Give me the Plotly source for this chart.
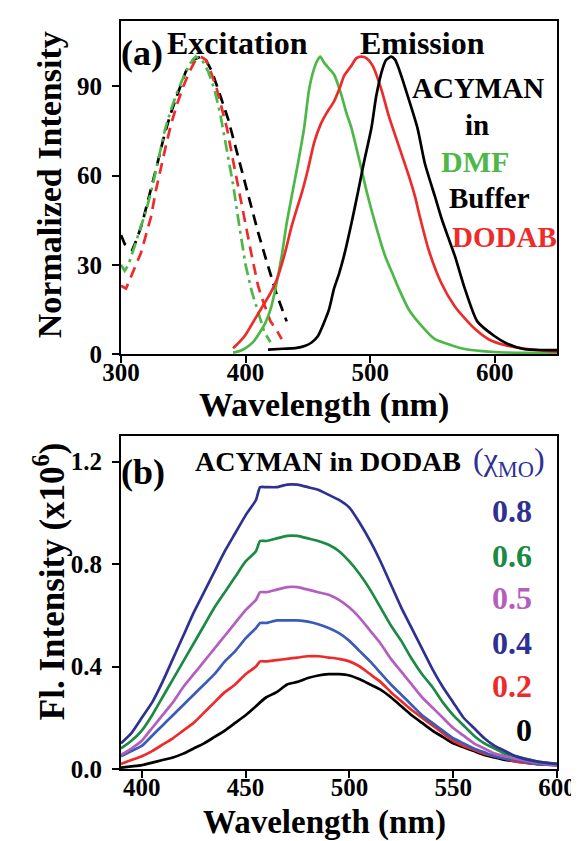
import plotly.graph_objects as go

# ---------------- Panel (a) data ----------------
exc_dmf_x = [300, 303, 306, 310, 315, 320, 325, 330, 335, 340, 345, 350, 355, 360, 365, 370, 375, 380, 385, 390, 395, 400, 405, 410, 415, 420]
exc_dmf_y = [30, 28, 30, 35, 41, 48, 56, 66, 75, 82, 88, 93, 97.5, 100, 99, 95, 89, 80, 69, 57, 43, 30, 21, 14, 7.5, 4]

exc_dodab_x = [300, 304, 308, 312, 316, 320, 324, 328, 332, 336, 340, 345, 350, 355, 360, 364, 368, 372, 377, 381, 385, 390, 395, 400, 405, 410, 413, 420, 425, 429]
exc_dodab_y = [23, 22, 26, 30, 34, 40, 46, 55, 63, 70, 77, 84, 90, 95, 99, 100, 99, 95, 89, 82, 76, 65, 54, 44, 33, 23, 19, 11, 8, 5]

exc_buf_x = [300, 303, 309, 313, 317, 322, 328, 335, 340, 345, 352, 358, 364, 368, 373, 378, 386, 393, 400, 404, 410, 417, 425, 433]
exc_buf_y = [40, 37, 35, 39, 44, 52, 62, 74, 81, 87, 95, 99, 100, 99, 95, 89, 79, 68, 57, 51, 41, 31, 20, 11]

em_dmf_x = [390, 395, 400, 406, 411, 416, 420, 424, 429, 433, 437, 442, 447, 451, 455, 458, 460, 463, 467, 471, 477, 481, 485, 492, 497, 504, 512, 518, 523, 531, 539, 552, 565, 576, 590, 600, 625, 650]
em_dmf_y = [0.5, 1, 2, 4, 7, 10.6, 15, 22, 33, 44, 53, 64, 76, 89, 96, 99, 100, 98, 96, 94, 87, 81, 76, 64, 55, 44, 33, 27, 22, 15, 10.6, 5, 3, 1.7, 1, 0.7, 0.4, 0.3]

em_dodab_x = [390, 395, 400, 405, 410, 415, 420, 425, 431, 437, 442, 445, 450, 455, 460, 465, 471, 476, 479, 485, 489, 493, 497, 502, 509, 515, 523, 531, 536, 540, 547, 557, 568, 576, 584, 595, 610, 630, 650]
em_dodab_y = [2, 4, 6.5, 10, 13.5, 17, 20.5, 25, 33, 43, 50, 54, 62, 71, 77, 81, 85, 90, 93.5, 97, 99.5, 100, 99.5, 97, 89, 80, 70, 60, 53, 46, 35, 24, 16, 12, 8.5, 5, 2.8, 1.5, 0.8]

em_buf_x = [418, 430, 440, 448, 453, 458, 463, 467, 471, 475, 479, 485, 490, 495, 501, 505, 510, 513, 517, 520, 523, 530, 538, 544, 552, 557, 562, 568, 576, 586, 600, 610, 623, 650]
em_buf_y = [1.5, 1.8, 2, 2.8, 3.9, 6, 10.6, 15, 22, 27, 33, 44, 54, 64.4, 76, 87, 96, 99, 100, 99, 96, 87, 76, 64, 53, 46, 40, 33, 22, 11, 6, 3.5, 1.7, 1.3]

a_xticks = [300, 400, 500, 600]
a_yticks = [0, 30, 60, 90]

# ---------------- Panel (b) data ----------------
wl_b = [390, 395, 400, 405, 410, 415, 420, 425, 430, 435, 440, 445, 450, 455, 457, 460, 465, 470, 475, 480,
        485, 490, 495, 500, 505, 510, 515, 520, 525, 530, 535, 540, 545, 550, 555, 560, 565, 570, 575, 580, 590, 600]
chi_08 = [0.10, 0.14, 0.20, 0.26, 0.34, 0.43, 0.52, 0.61, 0.69, 0.77, 0.85, 0.92, 0.99, 1.05, 1.10, 1.10, 1.10, 1.11, 1.11, 1.10,
          1.09, 1.07, 1.05, 1.02, 0.96, 0.89, 0.81, 0.72, 0.63, 0.55, 0.47, 0.39, 0.32, 0.26, 0.20, 0.16, 0.12, 0.09, 0.07, 0.05, 0.03, 0.02]
chi_06 = [0.08, 0.11, 0.15, 0.21, 0.28, 0.35, 0.42, 0.49, 0.56, 0.63, 0.69, 0.75, 0.81, 0.85, 0.89, 0.89, 0.90, 0.91, 0.91, 0.90,
          0.89, 0.875, 0.85, 0.81, 0.76, 0.70, 0.63, 0.56, 0.50, 0.43, 0.37, 0.32, 0.26, 0.21, 0.17, 0.13, 0.10, 0.08, 0.06, 0.05, 0.03, 0.02]
chi_05 = [0.055, 0.08, 0.11, 0.16, 0.21, 0.26, 0.32, 0.37, 0.42, 0.47, 0.52, 0.57, 0.62, 0.66, 0.69, 0.69, 0.70, 0.71, 0.71, 0.70,
          0.69, 0.68, 0.66, 0.63, 0.59, 0.54, 0.49, 0.43, 0.38, 0.33, 0.28, 0.24, 0.20, 0.16, 0.13, 0.10, 0.08, 0.06, 0.05, 0.04, 0.025, 0.015]
chi_04 = [0.05, 0.07, 0.09, 0.13, 0.17, 0.21, 0.25, 0.29, 0.33, 0.37, 0.42, 0.46, 0.51, 0.55, 0.57, 0.57, 0.58, 0.58, 0.58, 0.575,
          0.565, 0.55, 0.53, 0.50, 0.46, 0.42, 0.375, 0.33, 0.29, 0.25, 0.21, 0.18, 0.15, 0.12, 0.10, 0.08, 0.065, 0.05, 0.04, 0.035, 0.02, 0.015]
chi_02 = [0.02, 0.035, 0.05, 0.07, 0.095, 0.12, 0.15, 0.18, 0.22, 0.26, 0.30, 0.33, 0.37, 0.40, 0.42, 0.42, 0.425, 0.43, 0.435, 0.44,
          0.44, 0.435, 0.43, 0.42, 0.40, 0.37, 0.34, 0.30, 0.265, 0.23, 0.20, 0.17, 0.14, 0.11, 0.09, 0.075, 0.06, 0.05, 0.04, 0.03, 0.02, 0.015]
chi_00 = [0.005, 0.01, 0.015, 0.025, 0.035, 0.045, 0.06, 0.08, 0.10, 0.125, 0.15, 0.18, 0.21, 0.245, 0.26, 0.28, 0.30, 0.33, 0.34, 0.355,
          0.365, 0.37, 0.37, 0.365, 0.35, 0.33, 0.31, 0.28, 0.245, 0.21, 0.18, 0.15, 0.125, 0.10, 0.085, 0.07, 0.055, 0.045, 0.035, 0.03, 0.02, 0.015]
chi_labels = ["0.8", "0.6", "0.5", "0.4", "0.2", "0"]
b_xticks = [400, 450, 500, 550, 600]
b_yticks = [0.0, 0.4, 0.8, 1.2]

# ---------------- styling ----------------
FONT = "Liberation Serif, Times New Roman, serif"
GREEN_A = "#4DB848"
RED = "#EE2B2B"
BLACK = "#000000"
NAVY = "#2E3192"
GREEN_B = "#1B8A43"
ORCHID = "#B45EC0"
BLUE = "#3B5BB8"

fig = go.Figure()

LW = 2.7
# excitation (dashed)
fig.add_trace(go.Scatter(x=exc_buf_x, y=exc_buf_y, mode="lines", line=dict(color=BLACK, width=LW, dash="11px,7px"), xaxis="x", yaxis="y"))
fig.add_trace(go.Scatter(x=exc_dodab_x, y=exc_dodab_y, mode="lines", line=dict(color=RED, width=LW, dash="11px,7px"), xaxis="x", yaxis="y"))
fig.add_trace(go.Scatter(x=exc_dmf_x, y=exc_dmf_y, mode="lines", line=dict(color=GREEN_A, width=LW, dash="12px,5px,3px,5px"), xaxis="x", yaxis="y"))
# emission (solid)
fig.add_trace(go.Scatter(x=em_dmf_x, y=em_dmf_y, mode="lines", line=dict(color=GREEN_A, width=LW, shape="spline", smoothing=0.6), xaxis="x", yaxis="y"))
fig.add_trace(go.Scatter(x=em_dodab_x, y=em_dodab_y, mode="lines", line=dict(color=RED, width=LW, shape="spline", smoothing=0.6), xaxis="x", yaxis="y"))
fig.add_trace(go.Scatter(x=em_buf_x, y=em_buf_y, mode="lines", line=dict(color=BLACK, width=LW, shape="spline", smoothing=0.6), xaxis="x", yaxis="y"))

# panel (b)
for ys, col in [(chi_00, BLACK), (chi_02, RED), (chi_04, BLUE), (chi_05, ORCHID), (chi_06, GREEN_B), (chi_08, NAVY)]:
    fig.add_trace(go.Scatter(x=wl_b, y=ys, mode="lines", line=dict(color=col, width=LW, shape="spline", smoothing=0.5), xaxis="x2", yaxis="y2"))

axis_common = dict(showline=True, linecolor="black", linewidth=2, mirror=True,
                   ticks="outside", ticklen=7, tickwidth=2, tickcolor="black",
                   showgrid=False, zeroline=False,
                   tickfont=dict(family=FONT, size=25, color="black", weight="bold"))

fig.update_layout(
    width=579, height=841,
    margin=dict(l=113, r=20, t=11, b=80),
    plot_bgcolor="white", paper_bgcolor="white",
    showlegend=False,
    xaxis=dict(domain=[0, 1], anchor="y", range=[300, 650], tickvals=a_xticks, ticklabelstandoff=-12, **axis_common),
    yaxis=dict(domain=[0.5547, 1], anchor="x", range=[0, 112], tickvals=a_yticks, ticklabelstandoff=5, **axis_common),
    xaxis2=dict(domain=[0, 1], anchor="y2", range=[390, 600], tickvals=b_xticks, ticklabelstandoff=-12, **axis_common),
    yaxis2=dict(domain=[0, 0.4453], anchor="x2", range=[0, 1.3], tickvals=b_yticks, tickformat=".1f", ticklabelstandoff=5, **axis_common),
)

def px2paper(px, py):
    return (px - 113) / 446.0, (761 - py) / 750.0

def ann(text, px, py, size, color="black", weight="bold", angle=0, xanchor="center", yanchor="middle"):
    x, y = px2paper(px, py)
    fig.add_annotation(text=text, x=x, y=y, xref="paper", yref="paper", showarrow=False,
                       xanchor=xanchor, yanchor=yanchor, textangle=angle,
                       font=dict(family=FONT, size=size, color=color, weight=weight))

# axis titles
ann("Normalized Intensity", 40, 175, 34, angle=-90)
ann("Wavelength (nm)", 321, 396, 34)
ann("Fl. Intensity (x10<sup>6</sup>)", 40, 573, 35, angle=-90)
ann("Wavelength (nm)", 321, 815, 33)

# panel (a) labels
ann("(a)", 134, 43, 36)
ann("Excitation", 232, 33, 32)
ann("Emission", 421, 33, 32)
ann("ACYMAN", 478, 78, 29)
ann("in", 477, 115, 29)
ann("DMF", 475, 152, 30, color=GREEN_A)
ann("Buffer", 490, 188, 29)
ann("DODAB", 505, 228, 29, color=RED)

# panel (b) labels
ann("(b)", 136, 463, 36)
ann("ACYMAN in DODAB", 325, 453, 28)
ann("(χ<sub>MO</sub>)", 510, 453, 32, color=NAVY, weight="normal")
label_cols = [NAVY, GREEN_B, ORCHID, NAVY, RED, BLACK]
label_px = [513, 513, 513, 513, 513, 525]
label_py = [502, 547, 590, 635, 678, 722]
for t, c, lx, ly in zip(chi_labels, label_cols, label_px, label_py):
    ann(t, lx, ly, 32, color=c)

fig.write_html("out.html")
